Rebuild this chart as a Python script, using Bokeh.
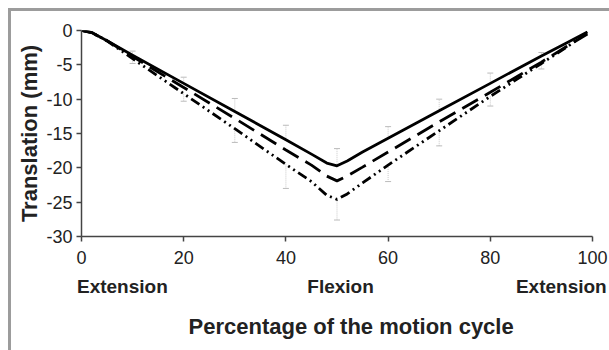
from bokeh.plotting import figure
from bokeh.models import Range1d, FixedTicker, LinearAxis, Title, Spacer
from bokeh.layouts import column, row
from bokeh.embed import file_html
from bokeh.resources import INLINE

# Data
x_vals = [0, 2, 5, 10, 20, 30, 40, 45, 48, 50, 52, 55, 60, 70, 80, 90, 95, 99]
solid = [0, -0.3, -1.5, -3.6, -7.7, -11.8, -15.9, -18.0, -19.3, -19.7, -19.0, -17.7, -15.7, -11.7, -7.7, -3.7, -1.8, -0.2]
dashed = [0, -0.3, -1.5, -3.8, -8.3, -12.8, -17.4, -19.6, -21.2, -21.9, -21.2, -19.9, -17.7, -13.3, -9.0, -4.6, -2.3, -0.5]
dashdot = [0, -0.3, -1.5, -4.1, -9.2, -14.3, -19.5, -22.0, -24.0, -24.6, -23.8, -22.2, -19.6, -14.6, -9.6, -4.8, -2.4, -0.3]

# faint error bars (upper end for solid, lower end for dash-dot)
err_x = [10, 20, 30, 40, 50, 60, 70, 80, 90]
solid_at = [-3.6, -7.7, -11.8, -15.9, -19.7, -15.7, -11.7, -7.7, -3.7]
solid_hi = [-3.0, -6.8, -9.9, -13.8, -17.2, -14.0, -10.0, -6.2, -3.2]
dashdot_at = [-4.1, -9.2, -14.3, -19.5, -24.6, -19.6, -14.6, -9.6, -4.8]
dashdot_lo = [-4.8, -10.3, -16.3, -23.0, -27.6, -22.0, -16.8, -11.0, -5.6]

x_ticks = [0, 20, 40, 60, 80, 100]
y_ticks = [-30, -25, -20, -15, -10, -5, 0]
phase_labels = ["Extension", "Flexion", "Extension"]
phase_pos = [8.0, 50.7, 93.9]

FONT = "Liberation Sans"
INK = "#222222"
FRAME_GREY = "#9c9c9c"

p = figure(width=598, height=339, output_backend="svg", toolbar_location=None,
           x_range=Range1d(0, 100), y_range=Range1d(-30, 0),
           min_border_left=70, min_border_right=17, min_border_top=19, min_border_bottom=111)

p.grid.visible = False
p.outline_line_color = None

p.xaxis.ticker = FixedTicker(ticks=x_ticks)
p.yaxis.ticker = FixedTicker(ticks=y_ticks)
p.xaxis.major_label_overrides = {t: str(t) for t in x_ticks}
p.yaxis.major_label_overrides = {t: str(t) for t in y_ticks}
for ax in (p.xaxis[0], p.yaxis[0]):
    ax.axis_line_color = "#444444"
    ax.axis_line_width = 1.5
    ax.major_tick_line_color = "#444444"
    ax.major_tick_line_width = 1.5
    ax.major_tick_out = 5
    ax.major_tick_in = 0
    ax.minor_tick_line_color = None
    ax.major_label_text_font = FONT
    ax.major_label_text_font_size = "18px"
    ax.major_label_text_color = INK
p.xaxis.major_label_standoff = 9
p.yaxis.major_label_standoff = 4

p.yaxis.axis_label = "Translation (mm)"
p.yaxis.axis_label_text_font = FONT
p.yaxis.axis_label_text_font_style = "bold"
p.yaxis.axis_label_text_font_size = "22px"
p.yaxis.axis_label_text_color = INK
p.yaxis.axis_label_standoff = 1

phase_axis = LinearAxis(ticker=FixedTicker(ticks=phase_pos),
                        major_label_overrides={v: t for v, t in zip(phase_pos, phase_labels)})
phase_axis.axis_line_color = None
phase_axis.major_tick_line_color = None
phase_axis.minor_tick_line_color = None
phase_axis.major_tick_out = 0
phase_axis.major_tick_in = 0
phase_axis.major_label_standoff = 9
phase_axis.major_label_text_font = FONT
phase_axis.major_label_text_font_style = "bold"
phase_axis.major_label_text_font_size = "19px"
phase_axis.major_label_text_color = INK
p.add_layout(phase_axis, "below")

p.add_layout(Title(text="Percentage of the motion cycle", align="left", offset=107,
                   text_font=FONT, text_font_style="bold", text_font_size="22px",
                   text_color=INK, standoff=24), "below")

# error bars
p.segment(err_x, solid_at, err_x, solid_hi, line_color="#c8c8c8", line_width=1, line_dash="1 1")
p.segment(err_x, dashdot_at, err_x, dashdot_lo, line_color="#c8c8c8", line_width=1, line_dash="1 1")
p.scatter(err_x, solid_hi, marker="dash", size=6, line_color="#bbbbbb", line_width=1)
p.scatter(err_x, dashdot_lo, marker="dash", size=6, line_color="#bbbbbb", line_width=1)

p.line(x_vals, solid, line_color="black", line_width=2.8, line_join="round")
p.line(x_vals, dashed, line_color="black", line_width=2.8, line_dash="18 8")
p.line(x_vals, dashdot, line_color="black", line_width=2.8, line_dash="10 4 2 4 2 4")

top_bar = Spacer(width=601, height=3, styles={"background-color": FRAME_GREY})
left_bar = Spacer(width=3, height=339, styles={"background-color": FRAME_GREY})
framed = column(top_bar, row(left_bar, p, spacing=0), spacing=0)
layout = column(Spacer(width=609, height=8),
                row(Spacer(width=8, height=342), framed, spacing=0), spacing=0)

open("out.html", "w").write(file_html(layout, INLINE))
